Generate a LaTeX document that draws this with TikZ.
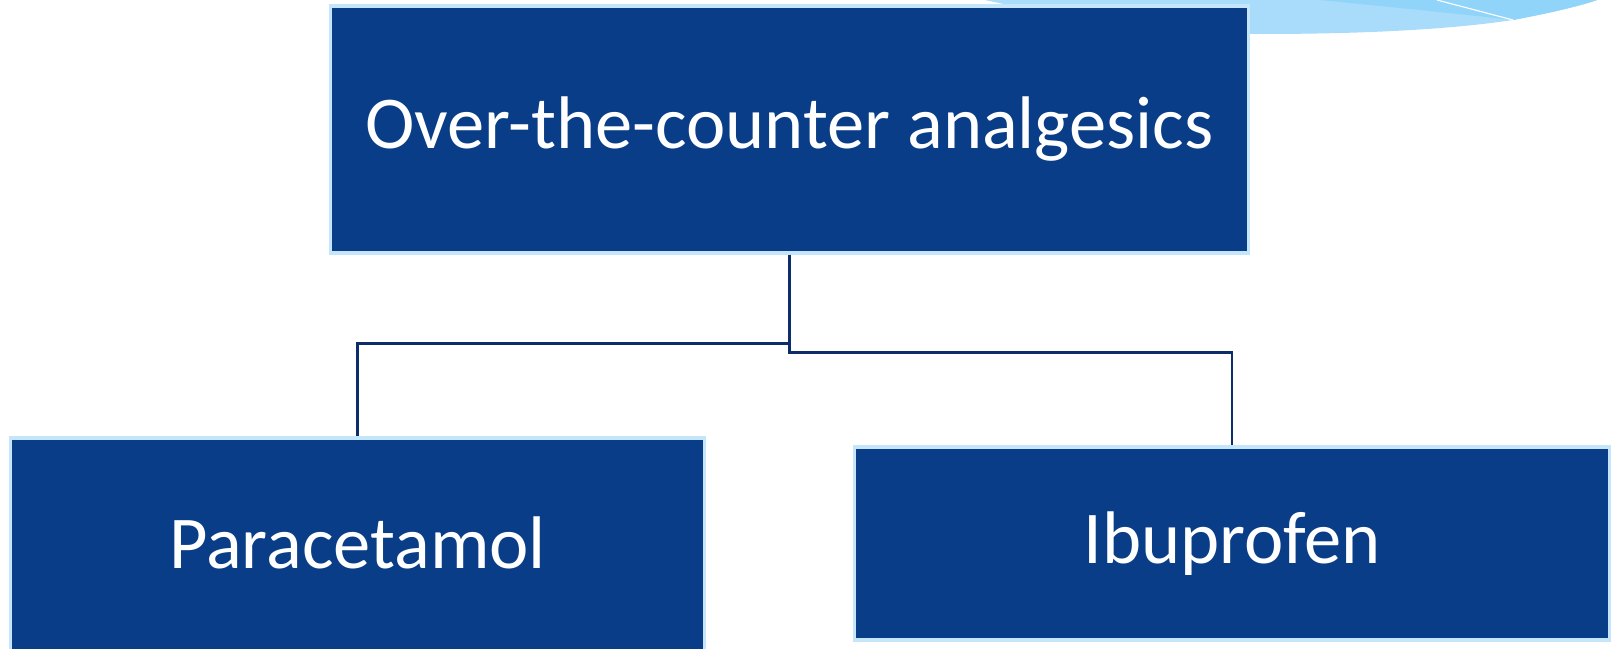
\documentclass[tikz,border=0pt]{standalone}
\usepackage{fontspec}
\setmainfont{Carlito}
\usetikzlibrary{positioning}
\definecolor{boxAzul}{RGB}{9,61,135}
\definecolor{bordeCeleste}{RGB}{197,230,250}
\definecolor{lineaAzul}{RGB}{12,45,105}
\definecolor{ondaClara}{RGB}{168,220,250}
\definecolor{ondaMedia}{RGB}{144,212,249}

\tikzset{
  drugbox/.style={draw=bordeCeleste, line width=2.2pt, fill=boxAzul, text=white,
    font=\fontsize{53}{60}\selectfont, inner sep=0pt},
  link/.style={draw=lineaAzul, line width=2pt}
}

\begin{document}
\begin{tikzpicture}[x=0.025cm, y=-0.025cm]
        \clip (0,0) rectangle (1614,649);
        \useasboundingbox (0,0) rectangle (1614,649);
        % wave in the corner
        \fill[ondaClara] (985,0) .. controls (1100,25) and (1180,34) .. (1260,34)
            .. controls (1380,34) and (1460,28) .. (1513,20) .. controls (1550,13) and (1580,6) .. (1597,0) -- cycle;
        \fill[ondaMedia] (1320,0) .. controls (1400,8) and (1470,15) .. (1513,20)
            .. controls (1550,13) and (1580,6) .. (1597,0) -- cycle;
        \draw[white, line width=0.8pt] (1437,0) -- (1513,20);
        % boxes
        \node[drugbox, minimum width=22.925cm, minimum height=6.175cm] (otc) at (789.5,129.5) {Over-the-counter analgesics};
        \node[drugbox, minimum width=17.325cm, minimum height=5.6cm, text depth=0.35cm] (para) at (357.5,550) {Paracetamol};
        \node[drugbox, minimum width=18.85cm, minimum height=4.825cm] (ibu) at (1232,543.5) {Ibuprofen};
        % connectors
        \draw[link] (otc.south) -- ++(0,89) -| (para.north);
        \draw[link] (otc.south) -- ++(0,98) -| (ibu.north);
    \end{tikzpicture}
\end{document}
